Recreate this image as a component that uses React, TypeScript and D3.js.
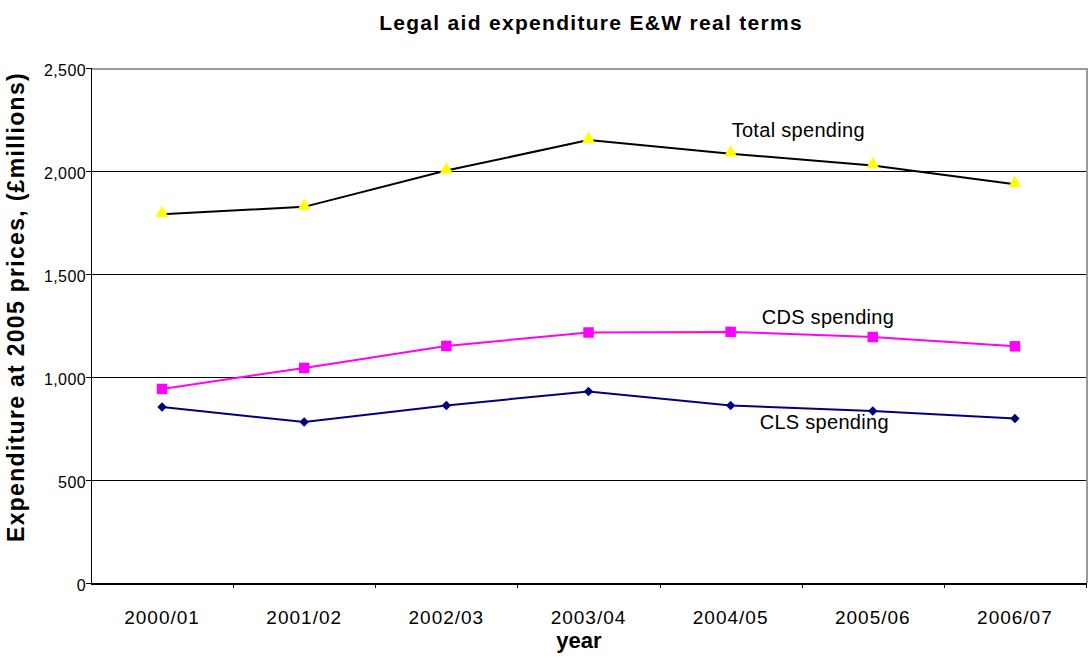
import React from "react";
import * as d3 from "d3";

const years = ["2000/01", "2001/02", "2002/03", "2003/04", "2004/05", "2005/06", "2006/07"];
const totalSpending = [1790, 1826, 2002, 2150, 2084, 2027, 1936];
const cdsSpending = [942, 1044, 1151, 1216, 1219, 1194, 1149];
const clsSpending = [854, 781, 862, 930, 862, 835, 798];
const yTicks = [0, 500, 1000, 1500, 2000, 2500];

const W = 1088;
const H = 658;
const FONT = "'Liberation Sans', Arial, sans-serif";

export default function App() {
  const left = 91, right = 1086, top = 68, bottom = 583;
  const x = d3.scalePoint<string>().domain(years).range([left, right]).padding(0.5);
  const band = (right - left) / years.length;
  const y = d3.scaleLinear().domain([0, 2500]).range([bottom, top]);
  const line = d3.line<number>().x((_, i) => x(years[i])!).y((d) => y(d));
  const fmt = d3.format(",");
  const crisp = (v: number) => Math.round(v) + 0.5;

  const tri = d3.symbol().type(d3.symbolTriangle).size(75)();
  const sq = d3.symbol().type(d3.symbolSquare).size(110)();
  const dia = d3.symbol().type(d3.symbolSquare).size(45)();

  return (
    <div style={{ position: "absolute", left: 0, top: 0 }}>
      <svg width={W} height={H} style={{ display: "block", fontFamily: FONT }}>
        <rect x={0} y={0} width={W} height={H} fill="#fff" />
        <text x={591} y={30} textAnchor="middle" fontSize={21} fontWeight="bold" letterSpacing={1.3}>
          Legal aid expenditure E&amp;W real terms
        </text>
        {/* plot border top/right */}
        <line x1={left} x2={right} y1={crisp(top)} y2={crisp(top)} stroke="#999" strokeWidth={2} shapeRendering="crispEdges" />
        <line x1={crisp(right)} x2={crisp(right)} y1={top} y2={bottom} stroke="#999" strokeWidth={2} shapeRendering="crispEdges" />
        {/* gridlines */}
        {yTicks.filter((t) => t > 0 && t < 2500).map((t) => (
          <line key={t} x1={left} x2={right} y1={crisp(y(t))} y2={crisp(y(t))} stroke="#000" strokeWidth={1} shapeRendering="crispEdges" />
        ))}
        {/* y axis */}
        <line x1={crisp(left)} x2={crisp(left)} y1={top} y2={bottom} stroke="#000" strokeWidth={1.5} shapeRendering="crispEdges" />
        {yTicks.map((t) => (
          <g key={t}>
            <line x1={left - 5} x2={left} y1={crisp(y(t))} y2={crisp(y(t))} stroke="#000" strokeWidth={1} shapeRendering="crispEdges" />
            <text x={left - 5} y={y(t) + 7.5} textAnchor="end" fontSize={16} letterSpacing={0.4}>
              {fmt(t)}
            </text>
          </g>
        ))}
        {/* x axis */}
        <line x1={left} x2={right} y1={crisp(bottom)} y2={crisp(bottom)} stroke="#000" strokeWidth={2} shapeRendering="crispEdges" />
        {years.map((yr, i) => (
          <line key={"t" + yr} x1={crisp(left + band * (i + 1))} x2={crisp(left + band * (i + 1))} y1={bottom} y2={bottom + 5} stroke="#000" strokeWidth={1} shapeRendering="crispEdges" />
        ))}
        {years.map((yr) => (
          <text key={yr} x={x(yr)} y={624} textAnchor="middle" fontSize={19} letterSpacing={1}>
            {yr}
          </text>
        ))}
        <text x={579} y={648} textAnchor="middle" fontSize={22} fontWeight="bold">year</text>
        <text
          transform={`translate(24, 307) rotate(-90)`}
          textAnchor="middle"
          fontSize={23}
          fontWeight="bold"
          letterSpacing={1.3}
        >
          Expenditure at 2005 prices, (£millions)
        </text>
        {/* lines */}
        <path d={line(totalSpending)!} fill="none" stroke="#000" strokeWidth={2} />
        <path d={line(cdsSpending)!} fill="none" stroke="#FF00FF" strokeWidth={2} />
        <path d={line(clsSpending)!} fill="none" stroke="#000080" strokeWidth={2} />
        {totalSpending.map((v, i) => (
          <path key={"a" + i} d={tri!} transform={`translate(${x(years[i])},${y(v) - 1})`} fill="#FFFF00" />
        ))}
        {cdsSpending.map((v, i) => (
          <path key={"b" + i} d={sq!} transform={`translate(${x(years[i])},${y(v)})`} fill="#FF00FF" />
        ))}
        {clsSpending.map((v, i) => (
          <path key={"c" + i} d={dia!} transform={`translate(${x(years[i])},${y(v)}) rotate(45)`} fill="#000080" />
        ))}
        {/* annotations */}
        <text x={x("2004/05")! + 1} y={y(2165)} fontSize={20} letterSpacing={0.3}>Total spending</text>
        <text x={x("2004/05")! + 31} y={y(1256)} fontSize={20} letterSpacing={0.3}>CDS spending</text>
        <text x={x("2004/05")! + 29} y={y(746)} fontSize={20} letterSpacing={0.3}>CLS spending</text>
      </svg>
    </div>
  );
}
